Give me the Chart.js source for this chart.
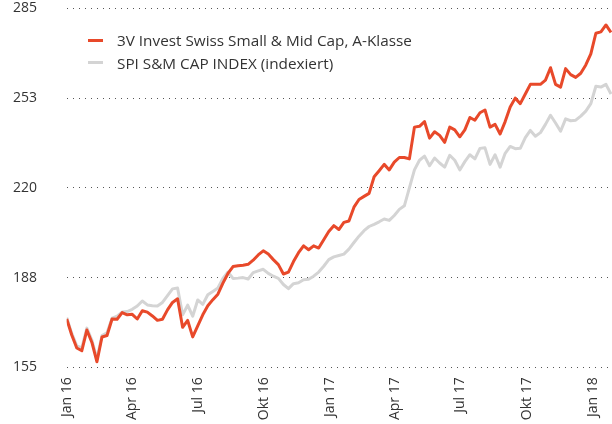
<!DOCTYPE html>
<html>
<head>
<meta charset="utf-8">
<script src="https://cdn.jsdelivr.net/npm/chart.js@4.4.1/dist/chart.umd.min.js"></script>
<style>
  html, body { margin: 0; padding: 0; background: #fff; }
  #wrap { position: relative; width: 612px; height: 424px; }
  #legend { position: absolute; left: 88px; top: 29px; font-family: "Open Sans", sans-serif; font-size: 15.3px; color: #333; }
  .row { display: flex; align-items: center; height: 22.5px; white-space: nowrap; }
  .swatch { width: 15px; height: 3px; margin-right: 14px; }
</style>
</head>
<body>
<div id="wrap">
  <canvas id="chart" width="612" height="424"></canvas>
  <div id="legend">
    <div class="row"><span class="swatch" style="background:#e8492a"></span>3V Invest Swiss Small &amp; Mid Cap, A-Klasse</div>
    <div class="row"><span class="swatch" style="background:#d4d4d4"></span>SPI S&amp;M CAP INDEX (indexiert)</div>
  </div>
</div>
<script>
// weekly values, first week of Jan 2016 to end of Feb 2018
const fundValues = [
  172.5, 166.7, 162, 161, 168.5, 164, 157, 166, 166.5, 172.5,
  172.4, 174.8, 174, 174.2, 172.5, 175.5, 175, 173.6, 172, 172.4,
  175.8, 178.5, 179.8, 169.5, 172, 166, 170, 174, 177.3, 179.5,
  181.5, 185.5, 189, 191.5, 191.8, 192, 192.3, 193.8, 195.7, 197.2,
  196, 194, 192.2, 188.8, 189.5, 193.3, 196.5, 199, 197.6, 199,
  198.2, 201.2, 204.2, 206.3, 204.9, 207.5, 208, 213, 215.8, 216.9,
  218, 224, 226.2, 228.5, 226.5, 229.3, 231, 231, 230.5, 242,
  242.3, 244, 238, 240.3, 239, 236.5, 242, 241, 238.5, 241,
  245.5, 244.5, 247.2, 248.2, 242, 243, 239.5, 244, 249.3, 252.5,
  250.5, 254, 257.5, 257.5, 257.5, 259, 263.5, 257.5, 256.5, 263.2,
  261, 260, 261.5, 264.5, 268.5, 276, 276.5, 279, 276.3
];
const indexValues = [
  173, 167.3, 162.8, 162, 169.2, 164.8, 158, 166.5, 167.5, 172.8,
  173.5, 175, 175.2, 176, 177.2, 179, 177.6, 177.3, 177.2, 178.5,
  181, 183.4, 183.7, 174, 177.5, 173.5, 179.4, 177.8, 181.3, 182.5,
  183.7, 187.2, 189.5, 187.2, 187.3, 187.5, 187, 189.3, 189.9, 190.5,
  189, 188, 187.2, 185, 183.5, 185.3, 185.6, 186.7, 186.9, 188,
  189.5, 191.6, 194, 195, 195.5, 196, 197.8, 200.2, 202.5, 204.5,
  206, 206.8, 207.7, 208.7, 208.2, 210, 212.2, 213.5, 220, 226.5,
  230, 231.5, 228, 230.8, 229, 227.5, 231.8, 230, 226.5, 229.5,
  232, 230.5, 234.3, 234.5, 228.5, 232, 227.5, 232.5, 235, 234.2,
  234.3, 238.2, 240.8, 238.7, 240, 243, 246.3, 243.5, 240.5, 245,
  244.3, 244.5, 246, 247.8, 250.5, 256.8, 256.5, 257.5, 254
];
// quarter starts, counted in weeks from 1 Jan 2016
const xTickWeeks = [0, 13, 26, 39.1, 52.3, 65.1, 78.1, 91.3, 104.4];
const xTickLabels = ["Jan 16", "Apr 16", "Jul 16", "Okt 16", "Jan 17", "Apr 17", "Jul 17", "Okt 17", "Jan 18"];
const yTickValues = [155, 187.5, 220, 252.5, 285];
const yTickLabels = ["155", "188", "220", "253", "285"];

const toPoints = (arr) => arr.map((v, i) => ({ x: i, y: v }));
const tickFont = { family: "'Open Sans', sans-serif", size: 14 };

new Chart(document.getElementById("chart"), {
  type: "line",
  data: {
    datasets: [
      {
        label: "3V Invest Swiss Small & Mid Cap, A-Klasse",
        data: toPoints(fundValues),
        borderColor: "#e8492a",
        borderWidth: 3,
        pointRadius: 0,
        tension: 0,
        borderJoinStyle: "round"
      },
      {
        label: "SPI S&M CAP INDEX (indexiert)",
        data: toPoints(indexValues),
        borderColor: "#d4d4d4",
        borderWidth: 3,
        pointRadius: 0,
        tension: 0,
        borderJoinStyle: "round"
      }
    ]
  },
  options: {
    responsive: false,
    animation: false,
    layout: { padding: { left: 13, top: 2, right: 0, bottom: 0 } },
    plugins: { legend: { display: false }, tooltip: { enabled: false } },
    scales: {
      x: {
        type: "linear",
        min: 0,
        max: 108.2,
        afterBuildTicks: (s) => { s.ticks = xTickWeeks.map(v => ({ value: v })); },
        afterFit: (s) => { s.height = 56.7; },
        grid: { display: false, drawTicks: true, tickLength: 10 },
        border: { display: false },
        ticks: {
          autoSkip: false,
          minRotation: 90,
          maxRotation: 90,
          padding: 0,
          color: "#333",
          font: tickFont,
          callback: (v, i) => xTickLabels[i]
        }
      },
      y: {
        min: 155,
        max: 285,
        afterBuildTicks: (s) => { s.ticks = yTickValues.map(v => ({ value: v })); },
        afterFit: (s) => { s.width = 53.7; },
        grid: { color: "#555", lineWidth: 1, drawTicks: false },
        border: { display: false, dash: [1, 5] },
        ticks: {
          padding: 0,
          crossAlign: "far",
          color: "#333",
          font: tickFont,
          callback: (v, i) => yTickLabels[i]
        }
      }
    }
  }
});
</script>
</body>
</html>
